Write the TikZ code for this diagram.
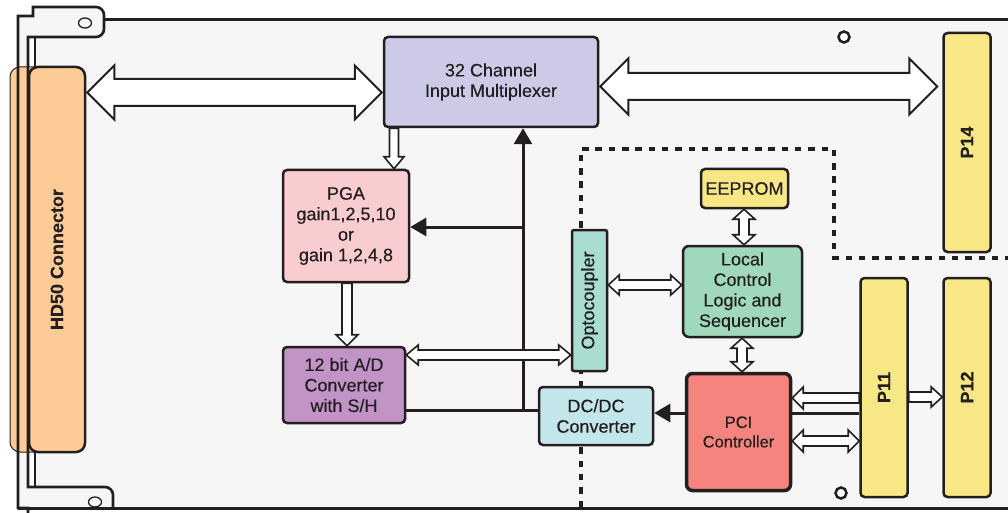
\documentclass[tikz,border=0pt]{standalone}
\usepackage{fontspec}
\setmainfont{Liberation Sans}[FakeBold=0.35]
\usetikzlibrary{calc,arrows.meta}
\definecolor{ink}{HTML}{231F20}
\definecolor{boardc}{HTML}{F6F6F6}
\definecolor{muxc}{HTML}{CDCAE8}
\definecolor{pgac}{HTML}{F9CCD0}
\definecolor{adcc}{HTML}{C193C7}
\definecolor{optoc}{HTML}{A9DDD1}
\definecolor{eepc}{HTML}{F7E785}
\definecolor{locc}{HTML}{A0D8BB}
\definecolor{dcc}{HTML}{C2E6E9}
\definecolor{pcic}{HTML}{F4847D}
\definecolor{hdc}{HTML}{FDCB95}
% hollow block arrow between two points
% #1 from, #2 to, #3 shaft half width, #4 head half width, #5 head length, #6 1=double 0=single
\newcommand\fatarrow[6]{%
  \path (#1) coordinate (faA) (#2) coordinate (faB);
  \pgfpointdiff{\pgfpointanchor{faA}{center}}{\pgfpointanchor{faB}{center}}%
  \pgfgetlastxy{\fadx}{\fady}%
  \pgfmathsetmacro\faang{atan2(\fady,\fadx)}%
  \pgfmathsetmacro\falen{veclen(\fadx,\fady)}%
  \begin{scope}[shift={(faA)}, rotate=\faang, x=1pt, y=1pt]
    \ifnum#6=1
      \filldraw[fatarr] (0,0) -- (#5,#4) -- (#5,#3) -- ({\falen-#5},#3) -- ({\falen-#5},#4) -- (\falen,0) -- ({\falen-#5},-#4) -- ({\falen-#5},-#3) -- (#5,-#3) -- (#5,-#4) -- cycle;
    \else
      \filldraw[fatarr] (0,#3) -- ({\falen-#5},#3) -- ({\falen-#5},#4) -- (\falen,0) -- ({\falen-#5},-#4) -- ({\falen-#5},-#3) -- (0,-#3) -- cycle;
    \fi
  \end{scope}%
}
\begin{document}
\begin{tikzpicture}[x=1pt,y=-1pt,
  blk/.style={draw=ink, line width=2.5pt, rounded corners=4pt, inner sep=0pt, align=center, text=ink,
    font=\fontsize{18}{20.5}\selectfont},
  plug/.style={blk, rotate=90, fill=eepc, minimum width=219pt, minimum height=47pt,
    font=\bfseries\fontsize{18}{20}\selectfont},
  fatarr/.style={fill=white, draw=ink, line width=1.6pt, line join=miter},
  bigarr/.style={fill=white, draw=ink, line width=2pt},
  sig/.style={draw=ink, line width=3pt},
  sigarr/.style={sig, -{Triangle[length=16pt,width=18pt]}},
  edge/.style={draw=ink, line width=2.6pt, line join=miter},
  dashln/.style={draw=ink, line width=3.2pt, dash pattern=on 6.5pt off 6.8pt}]
\useasboundingbox (0,0) rectangle (1008,513);
\clip (0,0) rectangle (1008,513);
\fill[white] (0,0) rectangle (1008,513);
% board and bracket fill
\fill[boardc] (18,16) -- (33,16) -- (33,7) -- (96,7) arc[start angle=-90,end angle=0,radius=8] -- (104,20) -- (1015,20) -- (1015,508) -- (18,508) -- cycle;
\fill[white] (28,37) rectangle (35,487);
% HD50 connector
\filldraw[fill=hdc, draw=ink, line width=1pt, rounded corners=10pt] (10,67) rectangle (85,452);
\node[blk, rotate=90, fill=hdc, rounded corners=9pt, minimum width=385pt, minimum height=56pt,
  font=\bfseries\fontsize{18}{20}\selectfont] (hd) at (57,259.5) {HD50 Connector};
% bracket outline
\draw[edge] (28,520) -- (28,508) -- (18,508) -- (18,16) -- (33,16) -- (33,7) -- (96,7)
  arc[start angle=-90,end angle=0,radius=8] -- (104,29) arc[start angle=0,end angle=90,radius=8] -- (28,37)
  -- (28,487) -- (105,487) arc[start angle=-90,end angle=0,radius=8] -- (113,508);
\draw[edge, line width=2.2pt] (35,37) -- (35,67) (35,452) -- (35,487);
\draw[edge, line width=3pt] (104,20) -- (1015,20);
\draw[edge, line width=3pt] (18,508) -- (1015,508);
\draw[ink, line width=1.3pt] (85,23) ellipse[x radius=6.5, y radius=5];
\draw[ink, line width=1.3pt] (95,502) ellipse[x radius=6.5, y radius=5];
\draw[ink, line width=2.5pt, fill=white] (844,37) circle[radius=5.5];
\draw[ink, line width=2.5pt, fill=white] (841,493) circle[radius=5.5];
% dashed isolation boundary
\draw[dashln] (581,507) -- (581,149) -- (834,149) -- (834,258) -- (1012,258);
% blocks
\node[blk, fill=muxc, minimum width=214pt, minimum height=90pt] (mux) at (491,82) {32 Channel\\Input Multiplexer};
\node[blk, fill=pgac, minimum width=126pt, minimum height=112pt] (pga) at (346,226) {PGA\\gain1,2,5,10\\or\\gain 1,2,4,8};
\node[blk, fill=adcc, minimum width=122pt, minimum height=76pt] (adc) at (344,385) {12 bit A/D\\Converter\\with S/H};
\node[blk, rotate=90, fill=optoc, rounded corners=2pt, minimum width=141pt, minimum height=35pt] (opto) at (589.5,300.5) {Optocoupler};
\node[blk, fill=eepc, minimum width=87pt, minimum height=39pt] (eep) at (744.5,188.5) {EEPROM};
\node[blk, fill=locc, rounded corners=6pt, minimum width=119pt, minimum height=91pt] (loc) at (742.5,291.5) {Local\\Control\\Logic and\\Sequencer};
\node[blk, fill=dcc, minimum width=114pt, minimum height=58pt] (dc) at (596,416) {DC/DC\\Converter};
\node[blk, fill=pcic, line width=3.5pt, rounded corners=6pt, minimum width=104pt, minimum height=117pt,
  font=\fontsize{16.5}{19.5}\selectfont] (pci) at (738.5,432) {PCI\\Controller};
\node[plug] (p14) at (967,142.5) {P14};
\node[plug] (p11) at (884,387.5) {P11};
\node[plug] (p12) at (967,387.5) {P12};
% signal lines
\coordinate (jv) at (523,410);
\coordinate (jh) at (523,227);
\draw[sig] ($(adc.east)+(0,25)$) -- ($(dc.west)+(0,-6)$);
\draw[sigarr] (jv) -- (jv |- mux.south);
\draw[sigarr] (jh) -- (jh -| pga.east);
\draw[sig] ($(p11.north)+(0,25.5)$) -- ($(pci.east)+(0,-19)$);
\draw[sigarr] ($(pci.west)+(0,-19)$) -- ($(dc.east)+(0,-3)$);
% hollow bus arrows
\tikzset{fatarr/.style={bigarr}}
\fatarrow{$(hd.south)+(1,-167)$}{$(mux.west)+(-1,10.5)$}{13.5}{27}{27}{1}
\fatarrow{$(mux.east)+(1,4.5)$}{$(p14.north)+(-5,-56)$}{13.5}{28}{28}{1}
\tikzset{fatarr/.style={fill=white, draw=ink, line width=1.6pt, line join=miter}}
\fatarrow{$(mux.south)+(-97,0)$}{$(pga.north)+(48,0)$}{4.5}{10}{12}{0}
\fatarrow{$(pga.south)+(1,0)$}{$(adc.north)+(3,0)$}{5}{11}{11}{0}
\fatarrow{$(adc.east)+(0,-30)$}{$(opto.north)+(0,54.5)$}{5}{10}{12}{1}
\fatarrow{$(opto.south)+(0,-15.5)$}{$(loc.west)+(0,-6.5)$}{5}{10}{11}{1}
\fatarrow{$(eep.south)+(-0.5,0)$}{$(loc.north)+(1.5,0)$}{5}{11}{10}{1}
\fatarrow{$(loc.south)+(-0.5,0)$}{$(pci.north)+(3.5,0)$}{5}{11}{10}{1}
\fatarrow{$(p11.north)+(0,10.5)$}{$(pci.east)+(0,-34)$}{5}{11}{11}{0}
\fatarrow{$(pci.east)+(0,9)$}{$(p11.north)+(0,53.5)$}{5}{11}{11}{1}
\fatarrow{$(p11.south)+(0,9.5)$}{$(p12.north)+(0,9.5)$}{5}{10}{11}{0}
\end{tikzpicture}
\end{document}
